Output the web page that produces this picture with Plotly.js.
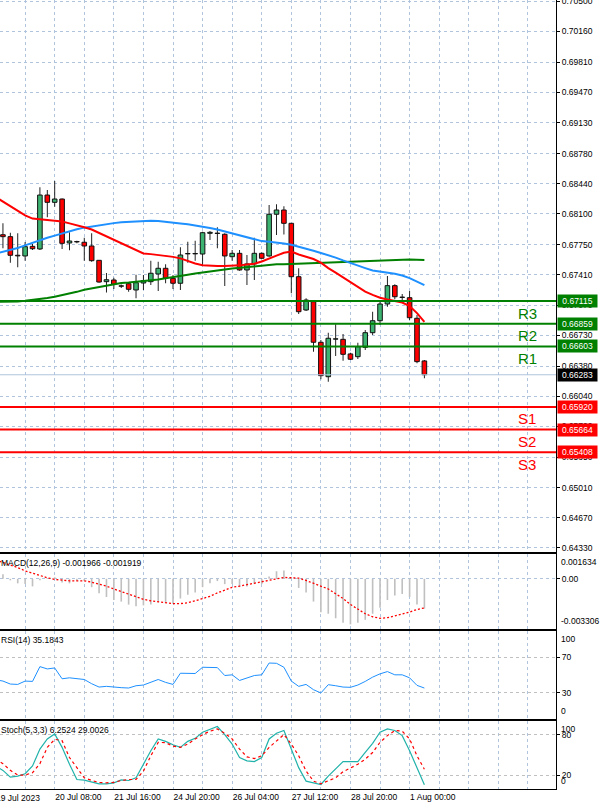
<!DOCTYPE html>
<html><head><meta charset="utf-8">
<script src="https://cdn.plot.ly/plotly-3.0.1.min.js"></script>
<style>html,body{margin:0;padding:0;background:#fff;}#chart{width:600px;height:809px;}</style>
</head><body><div id="chart"></div>
<script>
// ---- DATA (H4 bars, index 0 = 19 Jul 00:00) ----
const open  = [null,0.67864,0.67842,0.67632,0.67624,0.67733,0.67703,0.68312,0.68230,0.68267,0.67771,0.67787,0.67779,0.67737,0.67575,0.67334,0.67353,0.67287,0.67311,0.67240,0.67319,0.67334,0.67421,0.67485,0.67372,0.67316,0.67648,0.67652,0.67646,0.67880,0.67882,0.67869,0.67616,0.67654,0.67466,0.67534,0.67654,0.67624,0.68095,0.68143,0.67993,0.67390,0.67014,0.67108,0.66650,0.66261,0.66685,0.66683,0.66518,0.66487,0.66593,0.66758,0.66893,0.67082,0.67289,0.67160,0.67153,0.66921,0.66439];
const high  = [null,0.67993,0.67887,0.67880,0.67782,0.67759,0.68399,0.68369,0.68470,0.68273,0.67891,0.67797,0.67830,0.67880,0.67575,0.67432,0.67379,0.67302,0.67322,0.67413,0.67409,0.67571,0.67560,0.67530,0.67409,0.67722,0.67785,0.67797,0.67898,0.67906,0.67948,0.67880,0.67692,0.67692,0.67635,0.67830,0.67663,0.68200,0.68207,0.68185,0.67996,0.67485,0.67146,0.67110,0.66676,0.66758,0.66853,0.66743,0.66532,0.66645,0.66788,0.66995,0.67127,0.67398,0.67304,0.67195,0.67229,0.66958,0.66450];
const low   = [null,0.67711,0.67548,0.67496,0.67571,0.67692,0.67692,0.68061,0.68180,0.67703,0.67688,0.67767,0.67571,0.67560,0.67322,0.67212,0.67251,0.67263,0.67221,0.67146,0.67240,0.67296,0.67229,0.67316,0.67251,0.67240,0.67548,0.67571,0.67522,0.67804,0.67711,0.67285,0.67571,0.67458,0.67296,0.67353,0.67590,0.67616,0.67861,0.67867,0.67203,0.66969,0.67003,0.66543,0.66232,0.66205,0.66495,0.66442,0.66450,0.66461,0.66563,0.66732,0.66845,0.67051,0.67135,0.67127,0.66901,0.66413,0.66243];
const close = [null,0.67842,0.67632,0.67625,0.67729,0.67706,0.68312,0.68230,0.68267,0.67767,0.67793,0.67783,0.67737,0.67571,0.67330,0.67356,0.67304,0.67283,0.67248,0.67322,0.67347,0.67429,0.67485,0.67372,0.67316,0.67635,0.67652,0.67648,0.67887,0.67891,0.67878,0.67624,0.67654,0.67466,0.67534,0.67654,0.67598,0.68095,0.68143,0.67993,0.67390,0.66995,0.67127,0.66650,0.66273,0.66695,0.66689,0.66514,0.66458,0.66600,0.66758,0.66893,0.67082,0.67289,0.67164,0.67156,0.66927,0.66431,0.66283];

const maRed   = [0.68290,0.68236,0.68185,0.68134,0.68083,0.68046,0.68038,0.68031,0.68025,0.68013,0.67992,0.67972,0.67948,0.67923,0.67885,0.67844,0.67803,0.67765,0.67727,0.67690,0.67653,0.67645,0.67637,0.67628,0.67614,0.67597,0.67568,0.67540,0.67520,0.67512,0.67511,0.67511,0.67511,0.67518,0.67527,0.67537,0.67562,0.67591,0.67628,0.67660,0.67675,0.67641,0.67615,0.67590,0.67549,0.67487,0.67437,0.67383,0.67327,0.67273,0.67222,0.67185,0.67153,0.67133,0.67112,0.67098,0.67059,0.66979,0.66879];
const maBlue  = [0.67651,0.67670,0.67693,0.67715,0.67744,0.67774,0.67804,0.67829,0.67854,0.67879,0.67903,0.67926,0.67944,0.67958,0.67972,0.67984,0.67995,0.68005,0.68011,0.68017,0.68022,0.68021,0.68019,0.68012,0.68002,0.67992,0.67981,0.67969,0.67957,0.67940,0.67923,0.67901,0.67877,0.67851,0.67830,0.67809,0.67792,0.67784,0.67777,0.67766,0.67751,0.67731,0.67707,0.67683,0.67658,0.67633,0.67606,0.67574,0.67543,0.67513,0.67487,0.67460,0.67448,0.67438,0.67424,0.67403,0.67374,0.67335,0.67294];
const maGreen = [0.67105,0.67106,0.67108,0.67111,0.67119,0.67127,0.67138,0.67149,0.67163,0.67179,0.67197,0.67219,0.67243,0.67258,0.67275,0.67292,0.67309,0.67320,0.67326,0.67333,0.67341,0.67350,0.67359,0.67373,0.67389,0.67400,0.67413,0.67426,0.67439,0.67451,0.67461,0.67471,0.67482,0.67491,0.67500,0.67508,0.67517,0.67526,0.67530,0.67532,0.67535,0.67539,0.67544,0.67548,0.67549,0.67550,0.67552,0.67553,0.67555,0.67560,0.67563,0.67566,0.67567,0.67573,0.67579,0.67584,0.67584,0.67581,0.67579];

const macdMain   = [0.00040,0.00030,-0.00010,-0.00030,-0.00035,-0.00050,-0.00010,0.00005,0.00010,-0.00025,-0.00030,-0.00015,-0.00015,-0.00055,-0.00095,-0.00120,-0.00140,-0.00150,-0.00170,-0.00180,-0.00175,-0.00170,-0.00155,-0.00160,-0.00165,-0.00130,-0.00105,-0.00090,-0.00055,-0.00030,-0.00015,-0.00035,-0.00035,-0.00055,-0.00050,-0.00035,-0.00035,0.00015,0.00050,0.00055,0.00010,-0.00060,-0.00090,-0.00150,-0.00220,-0.00230,-0.00260,-0.00290,-0.00300,-0.00290,-0.00270,-0.00230,-0.00190,-0.00140,-0.00110,-0.00100,-0.00120,-0.00170,-0.001966];
const macdSignal = [0.00124,0.00108,0.00095,0.00074,0.00052,0.00037,0.00017,0.00007,-0.00004,-0.00010,-0.00013,-0.00013,-0.00013,-0.00022,-0.00035,-0.00048,-0.00067,-0.00085,-0.00100,-0.00117,-0.00135,-0.00145,-0.00152,-0.00158,-0.00163,-0.00163,-0.00158,-0.00145,-0.00130,-0.00115,-0.00093,-0.00072,-0.00056,-0.00048,-0.00039,-0.00030,-0.00022,-0.00009,0.00000,0.00009,0.00007,0.00004,-0.00011,-0.00030,-0.00046,-0.00067,-0.00098,-0.00130,-0.00169,-0.00202,-0.00230,-0.00250,-0.00260,-0.00256,-0.00245,-0.00234,-0.00219,-0.00202,-0.001919];
const rsi = [44.6,43.1,39.7,39.3,43.1,42.7,59.5,56.9,58.0,45.7,46.8,46.1,44.9,40.1,36.3,37.1,36.0,35.6,35.2,37.8,38.6,41.6,44.9,41.6,39.3,52.0,51.7,51.7,58.8,58.8,58.4,49.4,50.2,43.8,46.8,49.4,50.2,63.6,63.3,58.8,43.1,37.1,39.3,33.3,29.6,39.0,37.8,36.3,36.0,38.6,42.7,47.6,51.3,53.9,50.2,50.2,46.8,38.2,35.18];
const stochMain   = [33.9,27.4,17.5,19.0,22.5,33.9,58.7,73.6,81.0,61.2,36.4,14.0,13.0,10.0,7.6,7.6,9.1,13.5,12.5,16.5,36.4,56.2,73.6,70.1,65.1,61.2,70.1,74.5,83.5,87.4,91.9,80.0,66.1,46.3,41.3,40.3,46.3,73.6,82.0,86.0,58.7,31.4,11.6,9.1,6.6,19.0,28.9,40.3,40.3,40.3,53.7,67.1,83.5,88.4,86.0,78.5,56.2,31.4,6.25];
const stochSignal = [43.8,37.3,27.4,20.5,20.5,24.0,37.3,61.2,73.1,71.1,46.3,31.4,16.5,12.5,9.6,9.1,9.6,12.5,14.0,14.0,26.4,48.8,68.6,68.1,63.1,61.2,66.1,73.6,80.0,85.0,88.4,82.0,73.6,58.7,47.3,44.8,48.8,61.2,71.1,80.0,66.1,48.8,26.4,11.6,7.6,11.6,16.5,25.4,31.4,36.4,43.8,53.7,68.6,78.5,86.0,85.0,73.6,48.8,29.0];

const levelNames  = ['R3','R2','R1','S1','S2','S3'];
const levelValues = [0.67115,0.66859,0.66603,0.65920,0.65664,0.65408];
const currentPrice = 0.66283;
const priceTicks = [0.70500,0.70160,0.69810,0.69470,0.69130,0.68780,0.68440,0.68100,0.67750,0.67410,0.67070,0.66730,0.66380,0.66040,0.65700,0.65350,0.65010,0.64670,0.64330];
const timeTickIdx  = [8,16,24,32,40,48,56];
const timeTickText = ['20 Jul 08:00','21 Jul 16:00','24 Jul 20:00','26 Jul 04:00','27 Jul 12:00','28 Jul 20:00','1 Aug 00:00'];
const firstDateLabel = '19 Jul 2023';
const macdHeader = 'MACD(12,26,9) -0.001966 -0.001919';
const rsiHeader = 'RSI(14) 35.1843';
const stochHeader = 'Stoch(5,3,3) 6.2524 29.0026';

// ---- STYLE ----
const GRID = '#b0c4de', LVLGRID = '#c0c0c0';
const BULL = '#3cb371', BEAR = '#ff0000';
const FONT = 'Liberation Sans, Arial, sans-serif';
const idx = open.map((_, i) => i);
const gridIdx = []; for (let k = 4; k <= 72; k += 4) gridIdx.push(k);
const gridText = gridIdx.map(k => { const j = timeTickIdx.indexOf(k); return j >= 0 ? timeTickText[j] : ''; });

const bodyBase = open.map((o, i) => o == null ? null : Math.min(o, close[i]));
const bodyLen = open.map((o, i) => o == null ? null : Math.max(Math.abs(close[i] - o), 0.00003));
const bodyCol = open.map((o, i) => (o != null && close[i] >= o) ? BULL : BEAR);
const wickLen = high.map((h, i) => h == null ? null : h - low[i]);

const traces = [
  {type:'bar', x:idx, base:low, y:wickLen, width:0.13, marker:{color:'#1a1a1a', line:{width:0}}, xaxis:'x', yaxis:'y', hoverinfo:'skip'},
  {type:'bar', x:idx, base:bodyBase, y:bodyLen, width:0.62, marker:{color:bodyCol, line:{color:'#111', width:1}}, xaxis:'x', yaxis:'y', hoverinfo:'skip'},
  {type:'scatter', mode:'lines', x:idx, y:maGreen, line:{color:'#008000', width:2}, xaxis:'x', yaxis:'y'},
  {type:'scatter', mode:'lines', x:idx, y:maBlue, line:{color:'#1e90ff', width:2}, xaxis:'x', yaxis:'y'},
  {type:'scatter', mode:'lines', x:idx, y:maRed, line:{color:'#ff0000', width:2}, xaxis:'x', yaxis:'y'},
  {type:'bar', x:idx, y:macdMain, width:0.22, marker:{color:'#c0c0c0', line:{width:0}}, xaxis:'x2', yaxis:'y2'},
  {type:'scatter', mode:'lines', x:idx, y:macdSignal, line:{color:'#ff0000', width:1.3, dash:'2px,2px'}, xaxis:'x2', yaxis:'y2'},
  {type:'scatter', mode:'lines', x:idx, y:rsi, line:{color:'#1e90ff', width:1}, xaxis:'x3', yaxis:'y3'},
  {type:'scatter', mode:'lines', x:idx, y:stochMain, line:{color:'#20b2aa', width:1.2}, xaxis:'x4', yaxis:'y4'},
  {type:'scatter', mode:'lines', x:idx, y:stochSignal, line:{color:'#ff0000', width:1.2, dash:'3px,3px'}, xaxis:'x4', yaxis:'y4'}
];

function xax(anchor, labels) {
  const a = {domain:[0,1], range:[0.602,75.8], anchor:anchor, tickvals:gridIdx, ticktext:gridText,
    showticklabels:labels, ticks:'', showgrid:true, gridcolor:GRID, griddash:'3px,3px', gridwidth:1,
    zeroline:false, showline:true, mirror:true, linecolor:'#000', linewidth:1,
    tickfont:{family:FONT, size:8.5, color:'#000'}, ticklabelposition:'outside right', fixedrange:true};
  if (anchor !== 'y') a.matches = 'x';
  return a;
}
function yax(domain, range, tickvals, ticktext, anchor, gridcolor) {
  return {domain:domain, range:range, anchor:anchor, side:'right', tickvals:tickvals, ticktext:ticktext,
    ticks:'outside', ticklen:3, tickcolor:'#000', showline:true, linecolor:'#000', linewidth:1,
    showgrid:true, gridcolor:gridcolor, griddash:'3px,3px', zeroline:false, ticklabeloverflow:'allow',
    tickfont:{family:FONT, size:8.5, color:'#000'}, fixedrange:true};
}

const shapes = [];
levelValues.forEach((v, i) => {
  shapes.push({type:'line', xref:'paper', x0:0, x1:1, yref:'y', y0:v, y1:v,
    line:{color: i < 3 ? '#008000' : '#ff0000', width:2}});
});
shapes.push({type:'line', xref:'paper', x0:0, x1:1, yref:'y', y0:currentPrice, y1:currentPrice, line:{color:'#b0c4de', width:1}});

const ann = [];
levelValues.forEach((v, i) => {
  const c = i < 3 ? '#008000' : '#ff0000';
  ann.push({xref:'paper', x:1, xanchor:'left', xshift:1, yref:'y', y:v, yanchor:'middle', text:v.toFixed(5),
    showarrow:false, bgcolor:c, font:{family:FONT, size:8.5, color:'#fff'}, borderpad:1, width:37});
  ann.push({xref:'x', x:71.9, xanchor:'center', yref:'y', y:v, yanchor:'middle', yshift:-12, text:levelNames[i],
    showarrow:false, font:{family:FONT, size:15, color:c}});
});
ann.push({xref:'paper', x:1, xanchor:'left', xshift:1, yref:'y', y:currentPrice, yanchor:'middle', text:currentPrice.toFixed(5),
  showarrow:false, bgcolor:'#000', font:{family:FONT, size:8.5, color:'#fff'}, borderpad:1, width:37});
// panel extreme labels
const extra = [['y2',0.001634,'0.001634','top'],['y2',-0.003306,'-0.003306','bottom'],['y3',100,'100','top'],['y3',0,'0','bottom'],['y4',100,'100','top'],['y4',0,'0','bottom']];
extra.forEach(e => ann.push({xref:'paper', x:1, xanchor:'left', xshift:3, yref:e[0], y:e[1], yanchor:e[3], yshift: e[3]==='top' ? -1 : 1,
  text:e[2], showarrow:false, font:{family:FONT, size:8.5, color:'#000'}}));
[['y2 domain',macdHeader],['y3 domain',rsiHeader],['y4 domain',stochHeader]].forEach(h => ann.push({xref:'paper', x:0, xanchor:'left', xshift:-1,
  yref:h[0], y:1, yanchor:'top', yshift:-2, text:h[1], showarrow:false, font:{family:FONT, size:8.5, color:'#000'}}));
ann.push({xref:'paper', x:0, xanchor:'left', xshift:-6, yref:'paper', y:0, yanchor:'top', yshift:-2, text:firstDateLabel,
  showarrow:false, font:{family:FONT, size:8.5, color:'#000'}});

const H = 789;
const dom = (top, bot) => [(H - bot) / H, (H - top) / H];
const layout = {
  width:600, height:809, margin:{l:0, r:44, t:0, b:20, pad:0}, autosize:false,
  paper_bgcolor:'#fff', plot_bgcolor:'#fff', showlegend:false, barmode:'overlay', hovermode:false,
  font:{family:FONT, size:8.5, color:'#000'},
  xaxis: xax('y', false), xaxis2: xax('y2', false), xaxis3: xax('y3', false), xaxis4: xax('y4', true),
  yaxis: yax(dom(0,552), [0.64282,0.70514], priceTicks, priceTicks.map(v => v.toFixed(5)), 'x', GRID),
  yaxis2: yax(dom(554,629), [-0.003306,0.001634], [0], ['0.00'], 'x2', GRID),
  yaxis3: yax(dom(631,719), [0,100], [70,30], ['70','30'], 'x3', LVLGRID),
  yaxis4: yax(dom(721,789), [0,100], [80,20], ['80','20'], 'x4', LVLGRID),
  shapes:shapes, annotations:ann
};
Plotly.newPlot('chart', traces, layout, {staticPlot:true, displayModeBar:false});
</script></body></html>
